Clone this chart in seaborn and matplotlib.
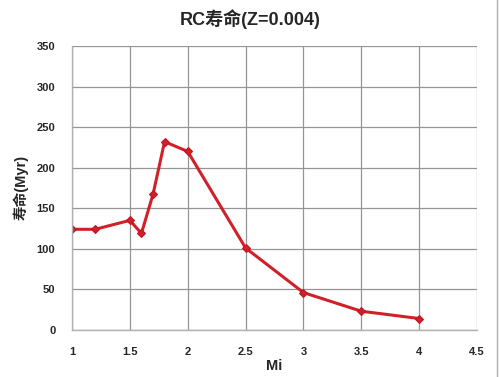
import matplotlib
matplotlib.use("Agg")
import matplotlib.pyplot as plt
import seaborn as sns
import pandas as pd
from matplotlib.lines import Line2D

mi = [1.0, 1.2, 1.5, 1.6, 1.7, 1.8, 2.0, 2.5, 3.0, 3.5, 4.0]
life = [124, 124, 135, 119, 167, 232, 220, 101, 46, 23, 14]
xticks = [1, 1.5, 2, 2.5, 3, 3.5, 4, 4.5]
xticklabels = ["1", "1.5", "2", "2.5", "3", "3.5", "4", "4.5"]
yticks = [0, 50, 100, 150, 200, 250, 300, 350]

sns.set_style("white")
plt.rcParams['font.family'] = ['Liberation Sans', 'Noto Sans CJK SC', 'DejaVu Sans']

df = pd.DataFrame({"Mi": mi, "life": life})

fig = plt.figure(figsize=(5.0, 3.77), dpi=100)
ax = fig.add_axes([0.144, 0.125, 0.81, 0.753])

sns.lineplot(data=df, x="Mi", y="life", ax=ax, color="#d0202a", linewidth=2.2,
             marker="D", markersize=4, markeredgecolor="#c0151f", sort=False)

ax.set_xlim(1, 4.5)
ax.set_ylim(0, 350)
ax.set_xticks(xticks)
ax.set_xticklabels(xticklabels)
ax.set_yticks(yticks)
ax.grid(True, color="#959595", linewidth=0.9)
ax.set_axisbelow(True)
for s in ["top", "right"]:
    ax.spines[s].set_visible(False)
for s in ["left", "bottom"]:
    ax.spines[s].set_color("#b0b0b0")
    ax.spines[s].set_linewidth(1.0)
ax.tick_params(axis="both", length=0, labelsize=8, pad=12)
ax.tick_params(axis="y", pad=12)
for lbl in ax.get_xticklabels() + ax.get_yticklabels():
    lbl.set_fontweight("bold")

ax.set_xlabel("Mi", fontsize=10.5, fontweight="bold", labelpad=2)
ax.set_ylabel("寿命(Myr)", fontsize=10.5, fontweight="bold", labelpad=6)
fig.suptitle("RC寿命(Z=0.004)", fontsize=13, fontweight="bold", y=0.975)

fig.add_artist(Line2D([0.994, 0.994], [0, 1], transform=fig.transFigure,
                      color="#b0b0b0", linewidth=1.0))

fig.savefig("out.png", dpi=100)
